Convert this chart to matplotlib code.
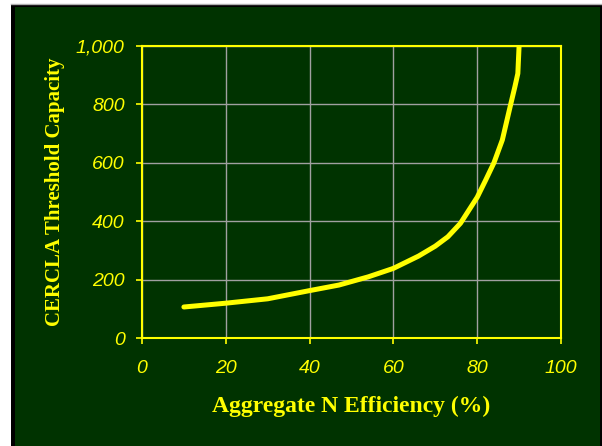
import matplotlib.pyplot as plt
from matplotlib.patches import Rectangle

# efficiency (%) vs threshold capacity
efficiency = [10, 20, 30, 40, 47, 50, 54, 60, 66, 70, 73, 76, 80, 82, 84, 86, 88, 89, 89.7, 90]
capacity = [107, 120, 135, 163, 182, 194, 210, 239, 281, 315, 347, 393, 482, 540, 600, 678, 800, 860, 905, 1000]

x_ticks = [0, 20, 40, 60, 80, 100]
y_ticks = [0, 200, 400, 600, 800, 1000]
y_tick_labels = ['0', '200', '400', '600', '800', '1,000']

green = '#003300'
yellow = '#ffff00'

W, H = 602, 446
fig = plt.figure(figsize=(W / 100, H / 100), dpi=100, facecolor='white')

# slide-style frame: black border with dark green panel
fig.patches.append(Rectangle((11 / W, 0), (W - 11) / W, 442 / H, transform=fig.transFigure,
                             facecolor='black', edgecolor='none', zorder=-3))
fig.patches.append(Rectangle((15 / W, 0), (600 - 15) / W, 439 / H, transform=fig.transFigure,
                             facecolor=green, edgecolor='none', zorder=-2))
fig.add_artist(plt.Line2D([11 / W, 1], [442.5 / H, 442.5 / H], transform=fig.transFigure,
                          color='#b0b0b0', lw=1))

ax = fig.add_axes([142 / W, (H - 338.3) / H, (561 - 142) / W, (338.3 - 45.7) / H])
ax.set_facecolor(green)

ax.plot(efficiency, capacity, color=yellow, lw=3.6, solid_capstyle='round', zorder=3)

ax.set_xlim(0, 100)
ax.set_ylim(0, 1000)
ax.set_xticks(x_ticks)
ax.set_yticks(y_ticks)
ax.set_yticklabels(y_tick_labels)
ax.grid(True, color='#a0a0a0', lw=1)

for s in ax.spines.values():
    s.set_color(yellow)
    s.set_linewidth(1.5)
    s.set_zorder(4)

ax.tick_params(axis='both', colors=yellow, length=4.5, width=1.2, labelsize=14)
ax.tick_params(axis='x', pad=11)
ax.tick_params(axis='y', pad=8)
for lab in ax.get_xticklabels() + ax.get_yticklabels():
    lab.set_fontstyle('italic')
    lab.set_fontfamily('Liberation Sans')

ax.set_xlabel('Aggregate N Efficiency (%)', fontsize=17, fontweight='bold',
              family='Liberation Serif', color=yellow, labelpad=14)
ax.set_ylabel('CERCLA Threshold Capacity', fontsize=15, fontweight='bold',
              family='Liberation Serif', color=yellow, labelpad=8)

fig.savefig('out.png', dpi=100, facecolor=fig.get_facecolor())
